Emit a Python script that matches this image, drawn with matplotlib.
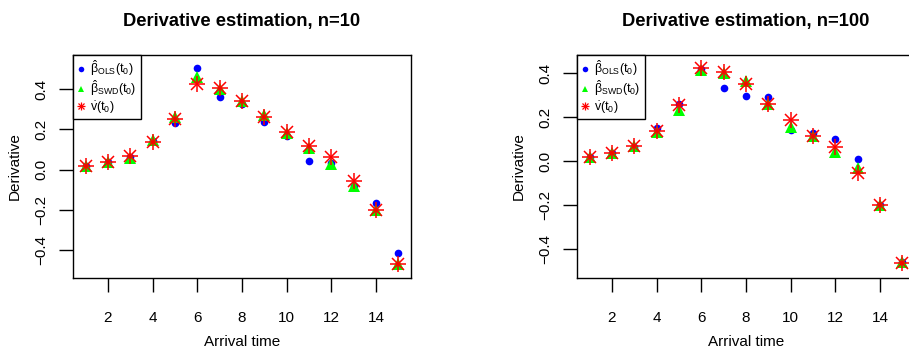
import numpy as np
import matplotlib
matplotlib.use("Agg")
import matplotlib.pyplot as plt
from matplotlib.lines import Line2D

plt.rcParams['font.family'] = ['Liberation Sans', 'DejaVu Sans']
plt.rcParams['mathtext.fontset'] = 'custom'
plt.rcParams['mathtext.rm'] = 'Liberation Sans'
plt.rcParams['mathtext.it'] = 'Liberation Sans'
plt.rcParams['mathtext.bf'] = 'Liberation Sans:bold'

# arrival times
t = np.arange(1, 16)

# n = 10
ols_10 = [0.018, 0.035, 0.060, 0.140, 0.234, 0.507, 0.364, 0.326, 0.238, 0.166,
          0.043, 0.030, -0.080, -0.165, -0.417]
swd_10 = [0.018, 0.035, 0.055, 0.146, 0.260, 0.459, 0.400, 0.340, 0.270, 0.180,
          0.105, 0.027, -0.081, -0.203, -0.472]
v_10 = [0.018, 0.035, 0.066, 0.136, 0.253, 0.424, 0.407, 0.344, 0.263, 0.186,
        0.115, 0.063, -0.055, -0.200, -0.469]

# n = 100
ols_100 = [0.017, 0.035, 0.062, 0.148, 0.260, 0.420, 0.333, 0.297, 0.289, 0.141,
           0.126, 0.098, 0.009, -0.200, -0.460]
swd_100 = [0.017, 0.035, 0.068, 0.133, 0.232, 0.414, 0.400, 0.364, 0.260, 0.156,
           0.114, 0.042, -0.033, -0.200, -0.458]
v_100 = [0.017, 0.035, 0.068, 0.136, 0.255, 0.424, 0.406, 0.348, 0.260, 0.186,
         0.115, 0.062, -0.053, -0.200, -0.465]

panels = [
    ("Derivative estimation, n=10", ols_10, swd_10, v_10, (-0.541, 0.571)),
    ("Derivative estimation, n=100", ols_100, swd_100, v_100, (-0.532, 0.482)),
]

leg_labels = [r'$\hat{\beta}_{\mathrm{OLS}}(t_0)$',
              r'$\hat{\beta}_{\mathrm{SWD}}(t_0)$',
              r'$\dot{v}(t_0)$']

W, H = 909, 355
fig = plt.figure(figsize=(W / 100, H / 100), dpi=100)
lefts = [73, 577]
bottom, top = 278, 55
width = 338

blue, green, red = '#0000FF', '#00FF00', '#FF0000'

for left, (title, ols, swd, v, ylim) in zip(lefts, panels):
    ax = fig.add_axes([left / W, 1 - bottom / H, width / W, (bottom - top) / H])
    ax.plot(t, ols, 'o', color=blue, ms=5.5, mew=0, linestyle='none')
    ax.plot(t, swd, '^', color=green, ms=9, mew=0, linestyle='none')
    # asterisk = plus + cross
    ax.plot(t, v, '+', color=red, ms=11.5, mew=1.1, linestyle='none')
    ax.plot(t, v, 'x', color=red, ms=8.2, mew=1.1, linestyle='none')

    ax.set_xlim(0.44, 15.56)
    ax.set_ylim(*ylim)
    ax.set_xticks([2, 4, 6, 8, 10, 12, 14])
    ax.set_yticks([-0.4, -0.2, 0.0, 0.2, 0.4])
    ax.set_yticklabels(['\u22120.4', '\u22120.2', '0.0', '0.2', '0.4'],
                       rotation=90, va='center')
    ax.tick_params(direction='out', length=10, width=1.0, labelsize=11,
                   top=False, right=False)
    ax.tick_params(axis='x', pad=14)
    ax.tick_params(axis='y', pad=8)
    for s in ax.spines.values():
        s.set_linewidth(1.0)

    ax.set_xlabel("Arrival time", fontsize=11)
    ax.set_ylabel("Derivative", fontsize=11)
    ax.xaxis.set_label_coords(0.5, -57 / 223)
    ax.yaxis.set_label_coords(-51 / 338, 0.5)
    ax.text(0.5, 1 + 33 / 223, title, transform=ax.transAxes, ha='center',
            va='center', fontsize=13.2, fontweight='bold')

    h_ols = Line2D([], [], marker='o', color=blue, ms=4, mew=0, linestyle='none')
    h_swd = Line2D([], [], marker='^', color=green, ms=5, mew=0, linestyle='none')
    h_v1 = Line2D([], [], marker='+', color=red, ms=6, mew=0.9, linestyle='none')
    h_v2 = Line2D([], [], marker='x', color=red, ms=4.3, mew=0.9, linestyle='none')
    leg = ax.legend([h_ols, h_swd, (h_v1, h_v2)], leg_labels,
                    loc='upper left', borderaxespad=0, fontsize=9,
                    fancybox=False, framealpha=1, edgecolor='black',
                    handlelength=0.7, handletextpad=0.4, labelspacing=0.05,
                    borderpad=0.3)
    leg.get_frame().set_linewidth(1.0)

fig.savefig("out.png", dpi=100)
